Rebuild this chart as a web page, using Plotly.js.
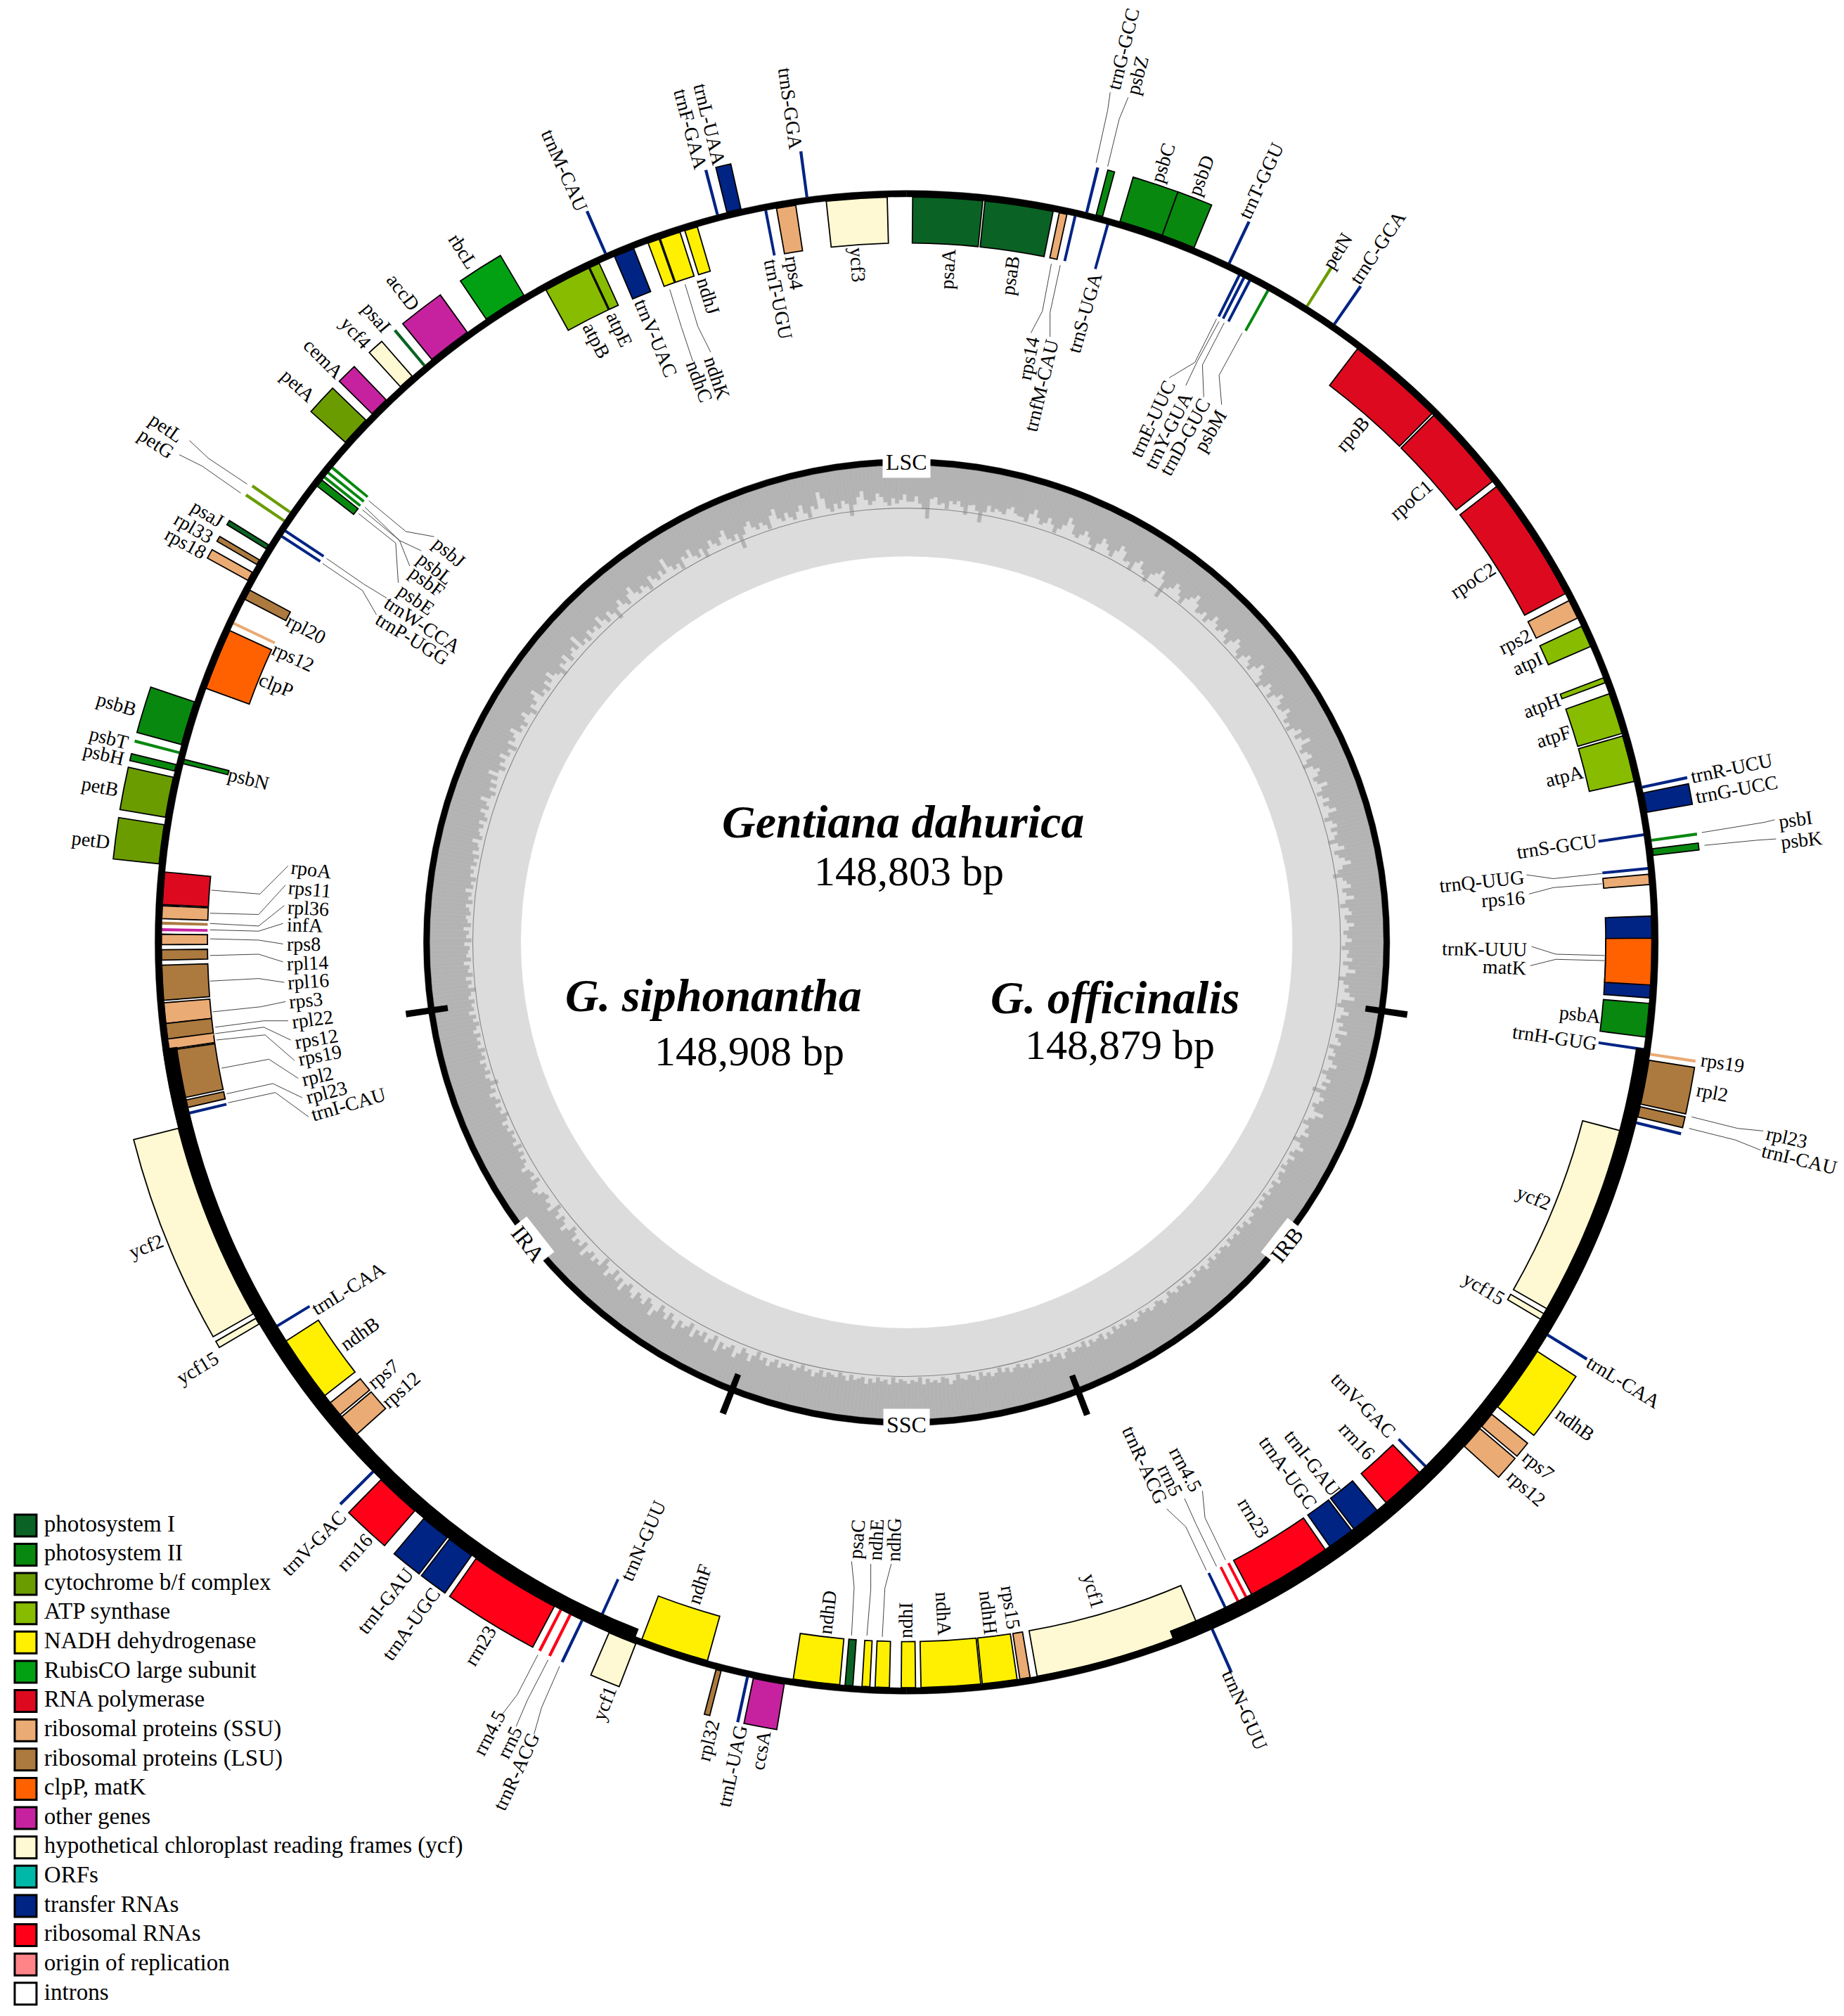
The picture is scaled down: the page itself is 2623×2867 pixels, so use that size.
<!DOCTYPE html>
<html>
<head>
<meta charset="utf-8">
<script src="https://cdn.plot.ly/plotly-3.0.1.min.js"></script>
<style>html,body{margin:0;padding:0;background:#fff}</style>
</head>
<body>
<div id="chart" style="width:2623px;height:2867px"></div>
<script>
// Functional groups, in legend order
const groupNames = ["photosystem I","photosystem II","cytochrome b/f complex","ATP synthase","NADH dehydrogenase","RubisCO large subunit","RNA polymerase","ribosomal proteins (SSU)","ribosomal proteins (LSU)","clpP, matK","other genes","hypothetical chloroplast reading frames (ycf)","ORFs","transfer RNAs","ribosomal RNAs","origin of replication","introns"];
const groupColors = ["#0a6324","#08880f","#6a9c00","#87bc00","#fef000","#02a114","#dd0a1f","#eaab74","#ac7a3f","#ff6100","#c6229f","#fef9d2","#00b8a8","#002484","#ff0018","#ff8488","#ffffff"];

// Genes clockwise from the top of the map, start and end in degrees
const geneNames = ["psaA","psaB","rps14","trnfM-CAU","trnG-GCC","psbZ","trnS-UGA","psbC","psbD","trnT-GGU",
  "trnE-UUC","trnY-GUA","trnD-GUC","psbM","petN","trnC-GCA","rpoB","rpoC1","rpoC2","rps2",
  "atpI","atpH","atpF","atpA","trnR-UCU","trnG-UCC","trnS-GCU","psbI","psbK","trnQ-UUG",
  "rps16","trnK-UUU","matK","psbA","trnH-GUG","rps19","rpl2","rpl23","trnI-CAU","ycf2",
  "ycf15","trnL-CAA","ndhB","rps7","rps12","trnV-GAC","rrn16","trnI-GAU","trnA-UGC","rrn23",
  "rrn4.5","rrn5","trnR-ACG","trnN-GUU","ycf1","rps15","ndhH","ndhA","ndhI","ndhG",
  "ndhE","psaC","ndhD","ccsA","trnL-UAG","rpl32","ndhF","ycf1","trnN-GUU","trnR-ACG",
  "rrn5","rrn4.5","rrn23","trnA-UGC","trnI-GAU","rrn16","trnV-GAC","rps12","rps7","ndhB",
  "trnL-CAA","ycf15","ycf2","trnI-CAU","rpl23","rpl2","rps19","rps12","rpl22","rps3",
  "rpl16","rpl14","rps8","infA","rpl36","rps11","rpoA","petD","petB","psbH",
  "psbN","psbT","psbB","clpP","rps12","rpl20","rps18","rpl33","psaJ","trnP-UGG",
  "trnW-CCA","petG","petL","psbE","psbF","psbL","psbJ","petA","cemA","ycf4",
  "psaI","accD","rbcL","atpB","atpE","trnM-CAU","trnV-UAC","ndhC","ndhK","ndhJ",
  "trnF-GAA","trnL-UAA","trnT-UGU","rps4","trnS-GGA","ycf3"];
const geneStart = [0.7,6.3,12.1,13.2,14,14.9,15.8,16.8,20.2,25.6,
  26.7,27.1,27.6,29.2,32.4,34.9,37.6,45.4,52.7,63.1,
  65.3,69.6,70.9,74.3,78.3,78.9,81.9,82.4,83.2,84.5,
  85.1,88.3,90,95,98.4,98.7,99.3,102.9,104,105,
  120.4,121.5,123.1,129,130.4,135.2,136,140.4,142.9,145.4,
  152.4,153.1,154.2,155.8,156.8,170.3,171.3,174.1,179.1,181.1,
  182.6,183.9,184.9,189.1,191.8,194,195.2,200.8,203.9,205.1,
  206.1,206.9,207.6,215,217.3,220.5,224.7,227.8,229.8,231.7,
  238.1,239.1,240,256.1,256.7,257.5,261.4,262.05,262.2,263.4,
  265.2,268.3,269.5,270.5,271,271.5,272.6,275.7,279.3,282.9,
  283.6,284.2,285,289.7,295,297.2,298.6,300,301.4,302.7,
  303.2,303.8,304.6,307.6,308.35,308.8,309.3,311.6,314.6,317.6,
  319.9,320.8,326,331.1,334.9,336.3,337,339.8,340.8,342.8,
  345.4,346.3,349.1,350.1,352.4,354];
const geneEnd = [6.1,11.6,12.7,13.5,14.3,15.4,16.1,20.2,22.8,25.9,
  27,27.4,27.9,29.5,32.7,35.2,45.2,52.2,62.5,64.6,
  67,70,74.1,77.9,78.6,80.4,82.2,82.7,83.7,84.8,
  85.9,94.6,93.6,97.6,98.7,99,102.7,103.7,104.3,120,
  120.9,121.8,128.3,130.2,132.2,135.5,139.5,142.7,145,152.1,
  152.7,153.4,154.5,156.1,169.8,171.1,174,178.7,180.2,182.2,
  183.2,184.5,188.5,191.5,192.1,194.4,200.5,203,204.2,205.4,
  206.4,207.2,214.6,217.1,219.6,224,225,229.6,231,236.9,
  238.4,239.6,255.3,256.4,257.3,261.3,262.1,262.15,263.4,265,
  267.9,269.1,270.3,270.8,271.3,272.5,275.1,278.7,282.4,283.4,
  283.95,284.5,288.4,294.5,295.3,298,299.3,300.4,301.75,303,
  303.5,304.1,304.9,308.2,308.65,309.1,309.6,313.9,316.1,318.8,
  320.2,324.2,329.4,334.8,335.7,336.6,338.6,340.7,342.4,343.8,
  345.7,347.4,349.4,351.6,352.7,358.7];
// "i" inside the circle, "o" outside
const geneSide = ["i","i","i","i","o","o","i","o","o","o",
  "i","i","i","i","o","o","i","i","i","i",
  "i","i","i","i","o","o","i","o","o","i",
  "i","i","i","i","i","o","o","o","o","i",
  "i","o","o","o","o","i","i","i","i","i",
  "i","i","i","o","i","i","i","i","i","i",
  "i","i","i","o","o","o","i","o","i","o",
  "o","o","o","o","o","o","o","i","i","i",
  "i","o","o","i","i","i","i","i","i","i",
  "i","i","i","i","i","i","i","o","o","o",
  "i","o","o","i","i","i","o","o","o","i",
  "i","o","o","i","i","i","i","o","o","o",
  "o","o","o","i","i","o","i","i","i","i",
  "o","o","i","i","o","i"];
const geneGroup = [0,0,7,13,13,1,13,1,1,13,
  13,13,13,1,2,13,6,6,6,7,
  3,3,3,3,13,13,13,1,1,13,
  7,13,9,1,13,7,8,8,13,11,
  11,13,4,7,7,13,14,13,13,14,
  14,14,13,13,11,7,4,4,4,4,
  4,0,4,10,13,8,4,11,13,13,
  14,14,14,13,13,14,13,7,7,4,
  13,11,11,13,8,8,7,7,8,7,
  8,8,7,10,8,7,6,2,2,1,
  1,1,1,9,7,8,7,8,0,13,
  13,2,2,1,1,1,1,2,10,11,
  0,10,5,3,3,13,13,4,4,4,
  13,13,13,7,13,11];

// Light/dark boundary of the inner track, every 0.5 degrees from the top, percent of the track width
const gcLevel = [
  62,60,66,58,52,42,64,70,66,60,58,63,70,68,62,50,61,66,60,44,56,68,72,64,60,58,65,74,70,62,
  60,56,66,72,64,58,61,68,62,54,60,66,76,70,60,58,63,69,64,57,52,62,70,66,60,55,64,72,68,58,
  60,52,64,68,60,56,50,62,66,72,64,44,58,62,70,66,60,54,63,68,74,66,58,60,65,56,62,70,64,59,
  62,68,60,55,63,70,66,58,54,62,67,61,56,64,72,66,60,52,58,66,62,55,63,70,64,58,60,68,62,56,
  60,54,62,68,58,64,72,60,56,63,66,58,52,62,68,64,57,60,70,62,55,60,66,58,63,70,60,54,62,66,
  58,64,60,52,62,68,56,60,66,72,62,56,50,60,64,68,58,62,70,60,54,63,66,58,60,68,62,56,60,65,
  58,54,62,60,66,56,62,70,60,52,58,64,60,66,72,58,54,62,68,60,56,64,60,70,58,62,66,54,60,63,
  56,62,68,60,54,60,66,58,64,50,60,66,62,56,60,72,64,58,54,62,60,66,58,52,62,68,60,56,64,58,
  60,55,62,57,59,64,56,60,58,62,55,60,57,63,58,56,61,59,64,57,60,55,62,58,60,56,63,59,57,61,
  58,62,56,60,64,57,59,55,61,58,63,56,60,57,62,59,55,61,64,58,56,60,62,57,59,55,60,63,58,56,
  61,57,60,55,62,58,64,56,59,61,57,63,55,60,58,62,56,59,65,57,60,55,62,58,61,56,59,63,57,60,
  55,58,62,56,60,54,59,62,57,60,55,63,58,56,61,59,54,60,64,57,55,61,58,60,56,62,54,59,57,61,
  58,56,60,54,62,57,59,55,61,57,63,56,58,60,55,62,57,54,60,58,56,62,55,59,64,57,60,54,58,62,
  56,60,58,64,56,60,66,58,62,54,60,68,60,56,64,70,58,62,66,60,72,56,62,68,58,64,60,70,56,62,
  66,60,72,64,58,68,62,56,66,74,62,58,68,64,60,70,66,58,62,72,60,66,56,64,70,60,54,66,62,68,
  60,64,72,58,66,62,68,60,56,64,70,62,58,66,60,54,68,62,64,58,60,66,70,62,56,64,58,60,68,62,
  58,62,56,60,54,62,57,59,55,61,58,63,56,52,60,57,62,55,59,64,56,60,50,58,62,55,60,57,63,56,
  59,54,61,57,60,55,62,58,54,60,56,63,57,59,55,61,58,52,60,56,62,54,59,57,63,55,60,58,56,62,
  54,60,57,63,55,59,61,56,58,62,55,60,57,64,56,59,54,61,58,62,56,60,55,63,57,59,66,56,60,62,
  58,64,56,60,66,58,62,70,60,56,64,58,66,60,72,62,56,64,60,68,58,62,54,66,60,64,70,58,62,56,
  62,68,60,54,64,60,66,72,58,62,56,66,60,70,62,58,52,64,60,68,56,62,66,60,74,58,62,56,66,60,
  64,58,70,62,56,66,60,50,62,68,60,56,66,72,62,58,64,60,54,68,62,58,66,60,76,64,58,62,54,66,
  62,70,60,56,64,52,60,68,62,58,66,72,60,56,62,44,58,66,70,62,58,64,60,54,68,74,62,58,66,60,
  56,64,70,60,54,66,62,80,72,60,56,64,58,66,62,48,60,68,74,64,58,62,70,66,60,56,64,58,62,68,
  60,66,72,62,56,64,70,66,58,62,54,68,60,64,58,66,72,62,56,60,68,64,58,62,66,86,78,68,62,60
];

// Typographic layout of the gene labels, same order as geneNames, in the 1440 x 1574 view
const labelX = [740,789,803,813,877,888,847,908,938,985,900,912,925,945,1044,1076,1056,1102,1150,1183,
  1193,1204,1213,1222,1352,1356,1216,1402,1407,1157,1174,1159,1175,1234,1214,1345,1337,1395,1405,1198,
  1159,1268,1230,1201,1192,1065,1060,1025,1006,979,926,914,894,972,854,789,772,737,707,698,
  684,669,646,594,572,553,546,472,502,403,398,382,375,321,301,277,245,313,299,281,
  272,154,114,272,255,248,250,247,244,239,241,240,237,238,241,242,243,71,78,81,
  194,85,91,216,229,239,145,151,162,322,330,122,130,325,333,340,351,233,253,278,
  294,315,362,466,484,441,512,546,560,553,539,554,608,620,617,670];
const labelY = [210,215,280,301,38,59,244,127,137,141,327,336,341,336,196,193,339,390,453,501,
  518,551,575,606,600,616,661,640,656,688,702,741,755,792,810,830,853,888,905,935,
  1006,1079,1112,1144,1162,1097,1125,1142,1150,1185,1147,1156,1144,1335,1242,1255,1259,1260,1265,1202,
  1202,1202,1259,1366,1379,1359,1237,1330,1203,1383,1360,1353,1285,1268,1250,1212,1205,1085,1073,1041,
  1006,1068,973,862,853,840,824,811,796,781,766,752,737,722,709,694,679,656,614,589,
  608,576,550,535,513,491,424,412,401,499,488,346,334,468,454,444,431,301,280,260,
  248,228,196,266,257,133,264,298,295,231,101,97,234,213,85,207];

// Thin leader lines, three points each
const leaderX = [[821,814,805],[828,820,820],[856,865,867],[865,874,881],[950,933,913],[952,935,926],[956,939,940],[970,952,954],
  [1329,1378,1386],[1331,1372,1387],[1251,1213,1192],[1251,1213,1194],[1253,1215,1196],[1253,1215,1195],[1321,1357,1377],[1319,1355,1375],
  [957,941,939],[950,934,925],[942,926,911],[665,667,665],[677,680,680],[689,691,696],[437,423,417],[428,412,403],[420,404,391],
  [165,203,225],[164,202,223],[164,202,222],[164,202,221],[164,202,221],[164,202,221],[164,202,222],[166,204,223],[168,206,225],[168,206,227],[169,207,230],[173,210,233],[177,213,236],[178,215,241],
  [193,163,148],[188,158,140],[288,317,339],[285,312,329],[283,312,320],[280,309,311],[255,284,302],[252,283,294],[523,532,541],[535,545,555]];
const leaderY = [[206,243,260],[207,244,263],[127,86,72],[130,93,76],[249,283,295],[251,282,301],[252,285,310],[260,293,316],
  [650,642,640],[660,656,655],[682,686,683],[690,693,698],[746,745,739],[750,749,754],[872,881,883],[881,890,898],
  [1218,1185,1164],[1223,1190,1170],[1226,1192,1178],[1277,1239,1219],[1277,1241,1221],[1278,1240,1221],[1301,1333,1354],[1296,1327,1348],[1292,1323,1340],
  [695,698,676],[713,714,691],[721,723,707],[726,727,721],[733,734,737],[746,745,751],[766,764,767],[790,786,782],[802,797,797],[807,802,812],[812,808,828],[834,827,842],[854,846,857],[861,853,872],
  [378,358,344],[385,364,355],[391,415,419],[396,422,430],[398,422,442],[401,424,455],[436,456,467],[440,461,480],[226,255,282],[222,255,275]];

const centerTitles = ["Gentiana dahurica","G. siphonantha","G. officinalis"];
const centerSizes = ["148,803 bp","148,908 bp","148,879 bp"];
const regionNames = ["LSC","SSC","IRA","IRB"];
const boundaryAngles = [98.5,159,201,261.5];

// Map centre and radii in view units
const CX = 708, CY = 735.7;
const RING_IN = 582, RING_OUT = 587, THICK_IN = 575.5, GENE_H = 36;
const TRACK_IN = 301.5, TRACK_OUT = 372.5, INNER_OUT = 377.5, MID = 339;
const THIN = 0.305, THIN_DRAWN = 0.22;
const FONT = "Liberation Serif";

// The angles were read around a centre 4 px left and 6 px above the true one
function aligned(t) {
  const a = t * Math.PI / 180;
  return t - 0.215 * Math.cos(a) - 0.323 * Math.sin(a);
}

function radialAngle(x, y) {
  let t = Math.atan2(x - CX, CY - y) * 180 / Math.PI;
  if (t < 0) t += 360;
  return t < 180 ? t - 90 : t - 270;
}

const traces = [];

function ringBars(centers, width, base, r, color, seam) {
  return { type: "barpolar", theta: centers, width: centers.map(() => width), base: centers.map(() => base),
    r: centers.map(() => r), marker: { color: color, line: { color: color, width: seam || 0 } }, hoverinfo: "skip", showlegend: false };
}

// inner track
traces.push(ringBars([90, 270], 180, TRACK_IN, TRACK_OUT - TRACK_IN, "#dcdcdc", 0.6));
const gcBase = gcLevel.map(v => TRACK_IN + v / 100 * (TRACK_OUT - TRACK_IN));
traces.push({ type: "barpolar", theta: gcLevel.map((v, i) => (i + 0.5) * 0.5), width: gcLevel.map(() => 0.5),
  base: gcBase, r: gcBase.map(v => TRACK_OUT - v),
  marker: { color: "#b3b3b3", line: { color: "#b3b3b3", width: 0.3 } }, hoverinfo: "skip", showlegend: false });
traces.push(ringBars([90, 270], 180, MID - 0.3, 0.6, "#868686"));
traces.push(ringBars([90, 270], 180, TRACK_OUT, INNER_OUT - TRACK_OUT, "#000000", 0.4));
traces.push(ringBars(boundaryAngles.map(aligned), 0.75, 362, 33, "#000000"));

// genes, one trace per group; transfer RNAs first because matK sits on top of trnK-UUU
const drawOrder = [13, 0, 1, 2, 3, 4, 5, 6, 7, 8, 9, 10, 11, 12, 14, 15, 16];
drawOrder.forEach(g => {
  const idx = geneNames.map((n, i) => i).filter(i => geneGroup[i] === g);
  if (!idx.length) return;
  const span = i => geneEnd[i] - geneStart[i];
  traces.push({
    type: "barpolar", name: groupNames[g], showlegend: false,
    theta: idx.map(i => aligned((geneStart[i] + geneEnd[i]) / 2)),
    width: idx.map(i => span(i) <= THIN ? THIN_DRAWN : span(i)),
    base: idx.map(i => geneSide[i] === "i" ? RING_IN - GENE_H : RING_OUT),
    r: idx.map(() => GENE_H),
    text: idx.map(i => geneNames[i]), hoverinfo: "text",
    marker: {
      color: groupColors[g],
      line: {
        color: idx.map(i => span(i) <= THIN ? groupColors[g] : "#000000"),
        width: idx.map(i => span(i) <= THIN ? 0 : 1.8)
      }
    }
  });
});

// outer ring, thicker over the inverted repeats
const ends = boundaryAngles.map(aligned);
traces.push(ringBars([90, 270], 180, RING_IN, RING_OUT - RING_IN, "#000000", 0.4));
traces.push(ringBars([(ends[0] + ends[1]) / 2], ends[1] - ends[0], THICK_IN, RING_OUT - THICK_IN, "#000000"));
traces.push(ringBars([(ends[2] + ends[3]) / 2], ends[3] - ends[2], THICK_IN, RING_OUT - THICK_IN, "#000000"));

// leader lines
const lx = [], ly = [];
leaderX.forEach((pts, i) => { pts.forEach((x, j) => { lx.push(x); ly.push(leaderY[i][j]); }); lx.push(null); ly.push(null); });
traces.push({ type: "scatter", mode: "lines", x: lx, y: ly, line: { color: "#444444", width: 1 }, hoverinfo: "skip", showlegend: false });

// legend
const legendY = groupNames.map((n, i) => 1191 + i * 22.85);
traces.push({ type: "scatter", mode: "markers", x: groupNames.map(() => 20), y: legendY,
  marker: { symbol: "square", size: 31, color: groupColors, line: { color: "#000000", width: 3 } },
  hoverinfo: "skip", showlegend: false });
traces.push({ type: "scatter", mode: "text", x: groupNames.map(() => 34.5), y: legendY, text: groupNames,
  textposition: "middle right", textfont: { family: FONT, size: 33, color: "#000000" }, hoverinfo: "skip", showlegend: false });

const annotations = geneNames.map((n, i) => ({
  x: labelX[i], y: labelY[i], text: n, showarrow: false, xanchor: "center", yanchor: "middle",
  textangle: radialAngle(labelX[i], labelY[i]), font: { family: FONT, size: 28, color: "#000000" }
}));

function note(text, x, y, size, style, angle, bg) {
  const a = { x: x, y: y, text: text, showarrow: false, xanchor: "center", yanchor: "middle",
    font: { family: FONT, size: size, color: "#000000" } };
  if (style) a.text = style[0] + text + style[1];
  if (angle) a.textangle = angle;
  if (bg) { a.bgcolor = "#ffffff"; a.borderpad = 4; }
  return a;
}
const bi = ["<b><i>", "</i></b>"];
annotations.push(note(centerTitles[0], 705, 641.5, 66, bi));
annotations.push(note(centerSizes[0], 710, 680, 60));
annotations.push(note(centerTitles[1], 557, 777, 66, bi));
annotations.push(note(centerSizes[1], 585, 821, 60));
annotations.push(note(centerTitles[2], 870.5, 779, 66, bi));
annotations.push(note(centerSizes[2], 874.5, 816, 60));
annotations.push(note(regionNames[0], 708, 360.5, 32, null, 0, true));
annotations.push(note(regionNames[1], 708, 1112.5, 32, null, 0, true));
annotations.push(note(regionNames[2], 412.5, 971, 32, null, 52, true));
annotations.push(note(regionNames[3], 1005, 972, 32, null, -52, true));

const RMAX = 640;
const layout = {
  width: 2623, height: 2867,
  margin: { l: 0, r: 0, t: 0, b: 0 },
  paper_bgcolor: "#ffffff", plot_bgcolor: "rgba(0,0,0,0)",
  showlegend: false,
  xaxis: { range: [0, 1440], visible: false, domain: [0, 1], fixedrange: true },
  yaxis: { range: [1574, 0], visible: false, domain: [0, 1], fixedrange: true },
  polar: {
    barmode: "overlay",
    bgcolor: "rgba(0,0,0,0)",
    domain: {
      x: [(CX - RMAX) / 1440, (CX + RMAX) / 1440],
      y: [(1574 - CY - RMAX) / 1574, (1574 - CY + RMAX) / 1574]
    },
    radialaxis: { range: [0, RMAX], visible: false, showgrid: false, showline: false, showticklabels: false },
    angularaxis: { direction: "clockwise", rotation: 90, visible: false, showgrid: false, showline: false, showticklabels: false }
  },
  annotations: annotations
};

Plotly.newPlot("chart", traces, layout, { displayModeBar: false, staticPlot: true });
</script>
</body>
</html>
